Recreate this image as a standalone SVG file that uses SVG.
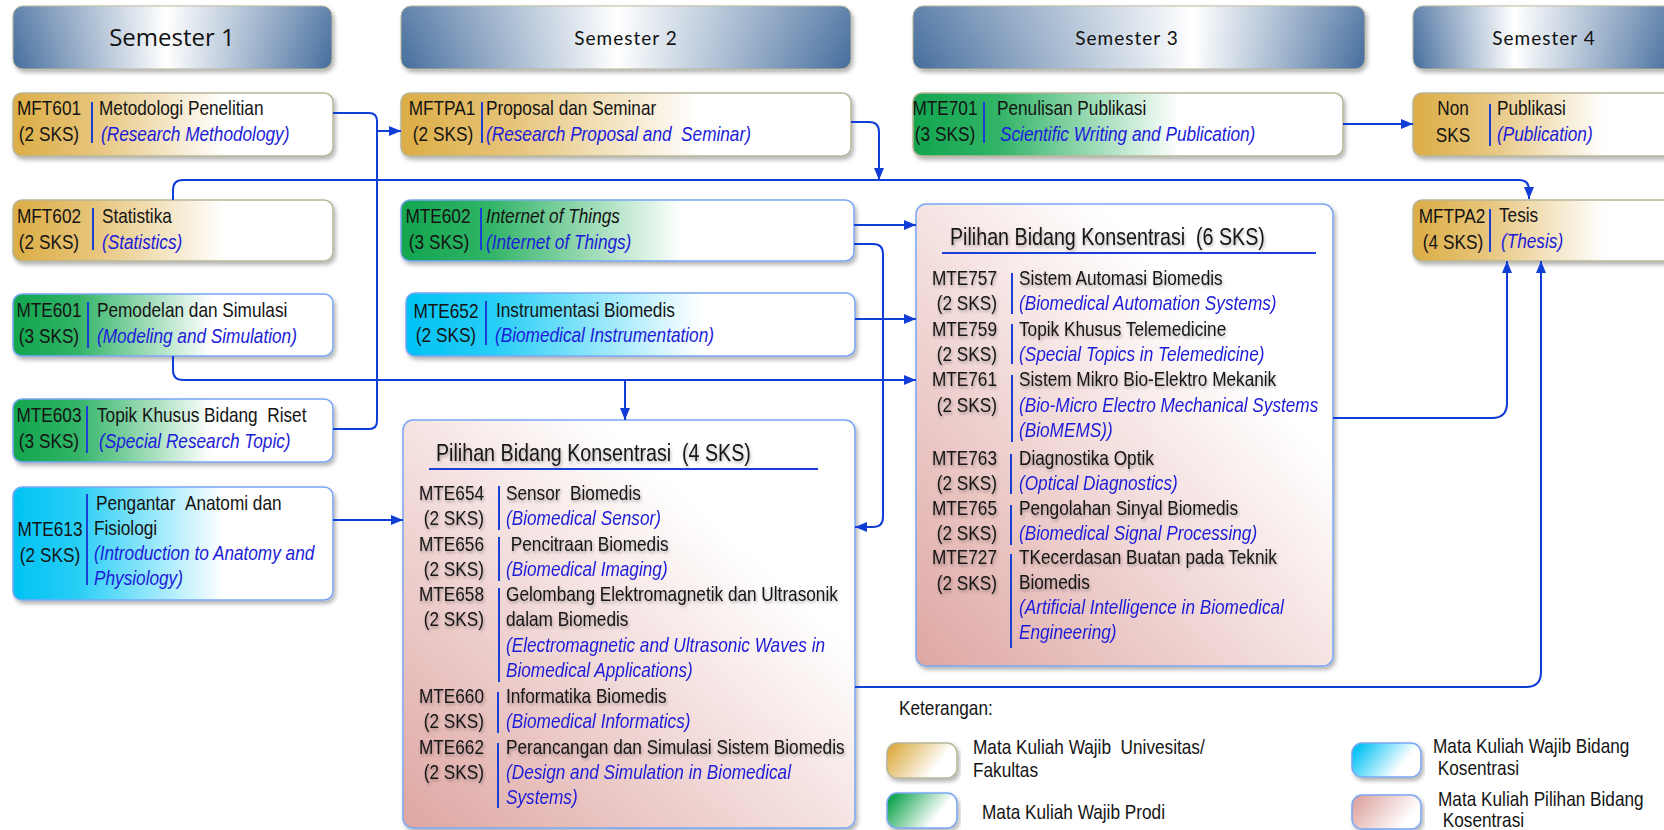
<svg xmlns="http://www.w3.org/2000/svg" width="1664" height="830" viewBox="0 0 1664 830">
  <defs>
    <style>
      .t { font-family: 'Liberation Sans', Arial, sans-serif; font-size: 21px; fill: #141414; transform: scaleX(0.82); transform-box: fill-box; transform-origin: 0 50%; }
      .s { font-style: italic; fill: #1C1CD8; }
      .i { font-style: italic; }
      .c { text-anchor: middle; transform-origin: 50% 50%; }
      .r { text-anchor: end; transform-origin: 100% 50%; }
      .h { font-size: 24px; }
      .sep { stroke: #1B3ED4; stroke-width: 2; }
      .con { fill: none; stroke: #0F3DD6; stroke-width: 2; }
      .hdr { stroke: #B3B195; stroke-width: 1; filter: url(#shadow); }
      .bx { stroke-width: 1.5; filter: url(#shadow); }
      .olive { stroke: #B7B598; }
      .blue { stroke: #79A7F2; }
      .sem { font-family: Lato, 'Open Sans', sans-serif; font-size: 19px; letter-spacing: 1px; fill: #111; text-anchor: middle; }
      .sem1 { font-family: 'Open Sans', sans-serif; font-size: 24px; fill: #111; text-anchor: middle; }
    </style>
    <filter id="shadow" x="-5%" y="-10%" width="110%" height="130%">
      <feDropShadow dx="2" dy="3" stdDeviation="2" flood-color="#000" flood-opacity="0.3"/>
    </filter>
    <filter id="tshadow" x="-5%" y="-20%" width="110%" height="150%">
      <feDropShadow dx="1" dy="2" stdDeviation="1.5" flood-color="#000" flood-opacity="0.3"/>
    </filter>
    <!-- header bars: steel blue edges, white highlight -->
    <linearGradient id="hdr" x1="0" y1="0" x2="1" y2="0">
      <stop offset="0" stop-color="#456D9D"/>
      <stop offset="0.48" stop-color="#FFFFFF"/>
      <stop offset="1" stop-color="#456D9D"/>
    </linearGradient>
    <linearGradient id="hdr3" x1="0" y1="0" x2="1" y2="0">
      <stop offset="0" stop-color="#456D9D"/>
      <stop offset="0.62" stop-color="#FFFFFF"/>
      <stop offset="1" stop-color="#456D9D"/>
    </linearGradient>
    <linearGradient id="hdr4" x1="0" y1="0" x2="1" y2="0">
      <stop offset="0" stop-color="#456D9D"/>
      <stop offset="0.35" stop-color="#FFFFFF"/>
      <stop offset="0.9" stop-color="#456D9D"/>
    </linearGradient>
    <linearGradient id="hdrv" x1="0" y1="0" x2="0" y2="1">
      <stop offset="0" stop-color="#FFFFFF" stop-opacity="0.15"/>
      <stop offset="1" stop-color="#FFFFFF" stop-opacity="0"/>
    </linearGradient>
    <!-- course category fills -->
    <linearGradient id="gold" x1="0" y1="0" x2="1" y2="0">
      <stop offset="0" stop-color="#DCAD45"/>
      <stop offset="0.25" stop-color="#E6C47A"/>
      <stop offset="0.66" stop-color="#FFFFFF"/>
    </linearGradient>
    <linearGradient id="green" x1="0" y1="0" x2="1" y2="0">
      <stop offset="0" stop-color="#12A54E"/>
      <stop offset="0.2" stop-color="#32B467"/>
      <stop offset="0.62" stop-color="#FFFFFF"/>
    </linearGradient>
    <linearGradient id="cyan" x1="0" y1="0" x2="1" y2="0">
      <stop offset="0" stop-color="#00C2F4"/>
      <stop offset="0.2" stop-color="#28CEF6"/>
      <stop offset="0.66" stop-color="#FFFFFF"/>
    </linearGradient>
    <linearGradient id="pink" x1="0" y1="1" x2="1" y2="0">
      <stop offset="0" stop-color="#DEA6A2"/>
      <stop offset="0.72" stop-color="#FFFFFF"/>
      <stop offset="1" stop-color="#FFFFFF"/>
    </linearGradient>
    <linearGradient id="goldS" x1="0" y1="0.3" x2="1" y2="0.7">
      <stop offset="0" stop-color="#DCAD45"/>
      <stop offset="0.75" stop-color="#FFFFFF"/>
    </linearGradient>
    <linearGradient id="greenS" x1="0" y1="0.3" x2="1" y2="0.7">
      <stop offset="0" stop-color="#12A54E"/>
      <stop offset="0.75" stop-color="#FFFFFF"/>
    </linearGradient>
    <linearGradient id="cyanS" x1="0" y1="0.3" x2="1" y2="0.7">
      <stop offset="0" stop-color="#00C2F4"/>
      <stop offset="0.75" stop-color="#FFFFFF"/>
    </linearGradient>
    <linearGradient id="pinkS" x1="0" y1="0.3" x2="1" y2="0.7">
      <stop offset="0" stop-color="#DEA6A2"/>
      <stop offset="0.85" stop-color="#FFFFFF"/>
    </linearGradient>
    <marker id="arrow" viewBox="0 0 12 10" refX="12" refY="5" markerWidth="12" markerHeight="10" markerUnits="userSpaceOnUse" orient="auto">
      <path d="M0,0 L12,5 L0,10 z" fill="#0F3DD6"/>
    </marker>
  </defs>

  <rect width="1664" height="830" fill="#FFFFFF"/>

  <!-- semester headers -->
  <g id="sem1">
    <rect class="hdr" x="13" y="6" width="319" height="63" rx="10" fill="url(#hdr)"/>
    <rect x="13" y="6" width="319" height="63" rx="10" fill="url(#hdrv)"/>
    <text class="sem1" x="172" y="46">Semester 1</text>
  </g>
  <g id="sem2">
    <rect class="hdr" x="401" y="6" width="450" height="63" rx="10" fill="url(#hdr)"/>
    <rect x="401" y="6" width="450" height="63" rx="10" fill="url(#hdrv)"/>
    <text class="sem" x="626" y="45">Semester 2</text>
  </g>
  <g id="sem3">
    <rect class="hdr" x="913" y="6" width="452" height="63" rx="10" fill="url(#hdr3)"/>
    <rect x="913" y="6" width="452" height="63" rx="10" fill="url(#hdrv)"/>
    <text class="sem" x="1127" y="45">Semester 3</text>
  </g>
  <g id="sem4">
    <rect class="hdr" x="1413" y="6" width="290" height="63" rx="10" fill="url(#hdr4)"/>
    <rect x="1413" y="6" width="290" height="63" rx="10" fill="url(#hdrv)"/>
    <text class="sem" x="1544" y="45">Semester 4</text>
  </g>

  <!-- Semester 1 courses -->
  <g id="mft601">
    <rect class="bx olive" x="13" y="93" width="320" height="63" rx="9" fill="url(#gold)"/>
    <text class="t c" x="49" y="115">MFT601</text>
    <text class="t c" x="49" y="141">(2 SKS)</text>
    <line class="sep" x1="92" y1="102" x2="92" y2="143"/>
    <text class="t" x="99" y="115">Metodologi Penelitian</text>
    <text class="t s" x="101" y="141">(Research Methodology)</text>
  </g>
  <g id="mft602">
    <rect class="bx olive" x="13" y="200" width="320" height="61" rx="9" fill="url(#gold)"/>
    <text class="t c" x="49" y="223">MFT602</text>
    <text class="t c" x="49" y="249">(2 SKS)</text>
    <line class="sep" x1="93" y1="208" x2="93" y2="250"/>
    <text class="t" x="102" y="223">Statistika</text>
    <text class="t s" x="102" y="249">(Statistics)</text>
  </g>
  <g id="mte601">
    <rect class="bx blue" x="13" y="294" width="320" height="62" rx="9" fill="url(#green)"/>
    <text class="t c" x="49" y="317">MTE601</text>
    <text class="t c" x="49" y="343">(3 SKS)</text>
    <line class="sep" x1="88" y1="302" x2="88" y2="348"/>
    <text class="t" x="97" y="317">Pemodelan dan Simulasi</text>
    <text class="t s" x="97" y="343">(Modeling and Simulation)</text>
  </g>
  <g id="mte603">
    <rect class="bx blue" x="13" y="399" width="320" height="63" rx="9" fill="url(#green)"/>
    <text class="t c" x="49" y="422">MTE603</text>
    <text class="t c" x="49" y="448">(3 SKS)</text>
    <line class="sep" x1="87" y1="406" x2="87" y2="453"/>
    <text class="t" x="97" y="422">Topik Khusus Bidang&#160;&#160;Riset</text>
    <text class="t s" x="99" y="448">(Special Research Topic)</text>
  </g>
  <g id="mte613">
    <rect class="bx blue" x="13" y="487" width="320" height="113" rx="9" fill="url(#cyan)"/>
    <text class="t c" x="50" y="536">MTE613</text>
    <text class="t c" x="50" y="562">(2 SKS)</text>
    <line class="sep" x1="87" y1="494" x2="87" y2="585"/>
    <text class="t" x="96" y="510">Pengantar&#160;&#160;Anatomi dan</text>
    <text class="t" x="94" y="535">Fisiologi</text>
    <text class="t s" x="94" y="560">(Introduction to Anatomy and</text>
    <text class="t s" x="94" y="585">Physiology)</text>
  </g>

  <!-- Semester 2 courses -->
  <g id="mftpa1">
    <rect class="bx olive" x="401" y="93" width="450" height="63" rx="9" fill="url(#gold)"/>
    <text class="t c" x="442" y="115">MFTPA1</text>
    <text class="t c" x="443" y="141">(2 SKS)</text>
    <line class="sep" x1="482" y1="102" x2="482" y2="143"/>
    <text class="t" x="486" y="115">Proposal dan Seminar</text>
    <text class="t s" x="486" y="141">(Research Proposal and&#160;&#160;Seminar)</text>
  </g>
  <g id="mte602">
    <rect class="bx blue" x="401" y="200" width="453" height="61" rx="9" fill="url(#green)"/>
    <text class="t c" x="438" y="223">MTE602</text>
    <text class="t c" x="439" y="249">(3 SKS)</text>
    <line class="sep" x1="481" y1="208" x2="481" y2="250"/>
    <text class="t i" x="486" y="223">Internet of Things</text>
    <text class="t s" x="486" y="249">(Internet of Things)</text>
  </g>
  <g id="mte652">
    <rect class="bx blue" x="406" y="293" width="449" height="63" rx="9" fill="url(#cyan)"/>
    <text class="t c" x="446" y="318">MTE652</text>
    <text class="t c" x="446" y="342">(2 SKS)</text>
    <line class="sep" x1="486" y1="301" x2="486" y2="345"/>
    <text class="t" x="496" y="317">Instrumentasi Biomedis</text>
    <text class="t s" x="495" y="342">(Biomedical Instrumentation)</text>
  </g>
  <g id="pilihan4">
    <rect class="bx blue" x="403" y="420" width="452" height="408" rx="10" fill="url(#pink)"/>
    <g filter="url(#tshadow)">
      <text class="t h" x="436" y="461">Pilihan Bidang Konsentrasi&#160;&#160;(4 SKS)</text>
      <text class="t r" x="484" y="500">MTE654</text>
      <text class="t r" x="484" y="525">(2 SKS)</text>
      <text class="t" x="506" y="500">Sensor&#160;&#160;Biomedis</text>
      <text class="t r" x="484" y="551">MTE656</text>
      <text class="t r" x="484" y="576">(2 SKS)</text>
      <text class="t" x="506" y="551">&#160;Pencitraan Biomedis</text>
      <text class="t r" x="484" y="601">MTE658</text>
      <text class="t r" x="484" y="626">(2 SKS)</text>
      <text class="t" x="506" y="601">Gelombang Elektromagnetik dan Ultrasonik</text>
      <text class="t" x="506" y="626">dalam Biomedis</text>
      <text class="t r" x="484" y="703">MTE660</text>
      <text class="t r" x="484" y="728">(2 SKS)</text>
      <text class="t" x="506" y="703">Informatika Biomedis</text>
      <text class="t r" x="484" y="754">MTE662</text>
      <text class="t r" x="484" y="779">(2 SKS)</text>
      <text class="t" x="506" y="754">Perancangan dan Simulasi Sistem Biomedis</text>
    </g>
    <text class="t s" x="506" y="525">(Biomedical Sensor)</text>
    <text class="t s" x="506" y="576">(Biomedical Imaging)</text>
    <text class="t s" x="506" y="652">(Electromagnetic and Ultrasonic Waves in</text>
    <text class="t s" x="506" y="677">Biomedical Applications)</text>
    <text class="t s" x="506" y="728">(Biomedical Informatics)</text>
    <text class="t s" x="506" y="779">(Design and Simulation in Biomedical</text>
    <text class="t s" x="506" y="804">Systems)</text>
    <line class="sep" x1="429" y1="469" x2="818" y2="469"/>
    <line class="sep" x1="499" y1="486" x2="499" y2="530"/>
    <line class="sep" x1="499" y1="537" x2="499" y2="581"/>
    <line class="sep" x1="499" y1="588" x2="499" y2="682"/>
    <line class="sep" x1="498" y1="692" x2="498" y2="733"/>
    <line class="sep" x1="498" y1="743" x2="498" y2="808"/>
  </g>

  <!-- Semester 3 courses -->
  <g id="mte701">
    <rect class="bx olive" x="913" y="93" width="430" height="63" rx="9" fill="url(#green)"/>
    <text class="t c" x="945" y="115">MTE701</text>
    <text class="t c" x="945" y="141">(3 SKS)</text>
    <line class="sep" x1="984" y1="102" x2="984" y2="143"/>
    <text class="t" x="997" y="115">Penulisan Publikasi</text>
    <text class="t s" x="1000" y="141">Scientific Writing and Publication)</text>
  </g>
  <g id="pilihan6">
    <rect class="bx blue" x="916" y="204" width="417" height="462" rx="10" fill="url(#pink)"/>
    <g filter="url(#tshadow)">
      <text class="t h" x="950" y="245">Pilihan Bidang Konsentrasi&#160;&#160;(6 SKS)</text>
      <text class="t r" x="997" y="285">MTE757</text>
      <text class="t r" x="997" y="310">(2 SKS)</text>
      <text class="t" x="1019" y="285">Sistem Automasi Biomedis</text>
      <text class="t r" x="997" y="336">MTE759</text>
      <text class="t r" x="997" y="361">(2 SKS)</text>
      <text class="t" x="1019" y="336">Topik Khusus Telemedicine</text>
      <text class="t r" x="997" y="386">MTE761</text>
      <text class="t r" x="997" y="412">(2 SKS)</text>
      <text class="t" x="1019" y="386">Sistem Mikro Bio-Elektro Mekanik</text>
      <text class="t r" x="997" y="465">MTE763</text>
      <text class="t r" x="997" y="490">(2 SKS)</text>
      <text class="t" x="1019" y="465">Diagnostika Optik</text>
      <text class="t r" x="997" y="515">MTE765</text>
      <text class="t r" x="997" y="540">(2 SKS)</text>
      <text class="t" x="1019" y="515">Pengolahan Sinyal Biomedis</text>
      <text class="t r" x="997" y="564">MTE727</text>
      <text class="t r" x="997" y="590">(2 SKS)</text>
      <text class="t" x="1019" y="564">TKecerdasan Buatan pada Teknik</text>
      <text class="t" x="1019" y="589">Biomedis</text>
    </g>
    <text class="t s" x="1019" y="310">(Biomedical Automation Systems)</text>
    <text class="t s" x="1019" y="361">(Special Topics in Telemedicine)</text>
    <text class="t s" x="1019" y="412">(Bio-Micro Electro Mechanical Systems</text>
    <text class="t s" x="1019" y="437">(BioMEMS))</text>
    <text class="t s" x="1019" y="490">(Optical Diagnostics)</text>
    <text class="t s" x="1019" y="540">(Biomedical Signal Processing)</text>
    <text class="t s" x="1019" y="614">(Artificial Intelligence in Biomedical</text>
    <text class="t s" x="1019" y="639">Engineering)</text>
    <line class="sep" x1="942" y1="253" x2="1316" y2="253"/>
    <line class="sep" x1="1012" y1="273" x2="1012" y2="314"/>
    <line class="sep" x1="1012" y1="324" x2="1012" y2="364"/>
    <line class="sep" x1="1012" y1="375" x2="1012" y2="442"/>
    <line class="sep" x1="1011" y1="454" x2="1011" y2="494"/>
    <line class="sep" x1="1011" y1="505" x2="1011" y2="545"/>
    <line class="sep" x1="1011" y1="554" x2="1011" y2="648"/>
  </g>

  <!-- Semester 4 courses -->
  <g id="nonsks">
    <rect class="bx olive" x="1413" y="93" width="290" height="63" rx="9" fill="url(#gold)"/>
    <text class="t c" x="1453" y="115">Non</text>
    <text class="t c" x="1453" y="142">SKS</text>
    <line class="sep" x1="1490" y1="104" x2="1490" y2="146"/>
    <text class="t" x="1497" y="115">Publikasi</text>
    <text class="t s" x="1497" y="141">(Publication)</text>
  </g>
  <g id="mftpa2">
    <rect class="bx olive" x="1413" y="200" width="290" height="61" rx="9" fill="url(#gold)"/>
    <text class="t c" x="1452" y="223">MFTPA2</text>
    <text class="t c" x="1453" y="249">(4 SKS)</text>
    <line class="sep" x1="1490" y1="209" x2="1490" y2="252"/>
    <text class="t" x="1499" y="222">Tesis</text>
    <text class="t s" x="1501" y="248">(Thesis)</text>
  </g>

  <!-- legend -->
  <g id="legend">
    <text class="t" x="899" y="715">Keterangan:</text>
    <rect class="bx olive" x="887" y="743" width="70" height="35" rx="10" fill="url(#goldS)"/>
    <text class="t" x="973" y="754">Mata Kuliah Wajib&#160;&#160;Univesitas/</text>
    <text class="t" x="973" y="777">Fakultas</text>
    <rect class="bx blue" x="887" y="793" width="70" height="35" rx="10" fill="url(#greenS)"/>
    <text class="t" x="982" y="819">Mata Kuliah Wajib Prodi</text>
    <rect class="bx blue" x="1352" y="743" width="69" height="34" rx="10" fill="url(#cyanS)"/>
    <text class="t" x="1433" y="753">Mata Kuliah Wajib Bidang</text>
    <text class="t" x="1433" y="775">&#160;Kosentrasi</text>
    <rect class="bx blue" x="1352" y="795" width="69" height="34" rx="10" fill="url(#pinkS)"/>
    <text class="t" x="1438" y="806">Mata Kuliah Pilihan Bidang</text>
    <text class="t" x="1438" y="827">&#160;Kosentrasi</text>
  </g>

  <!-- connectors -->
  <g id="connectors">
    <path class="con" d="M333,113 H369 Q377,113 377,121 V421 Q377,429 369,429 H333"/>
    <path class="con" d="M377,131 H401" marker-end="url(#arrow)"/>
    <path class="con" d="M173,200 V190 Q173,180 183,180 H1519 Q1529,180 1529,190 V199" marker-end="url(#arrow)"/>
    <path class="con" d="M851,122 H869 Q879,122 879,132 V180" marker-end="url(#arrow)"/>
    <path class="con" d="M854,225 H916" marker-end="url(#arrow)"/>
    <path class="con" d="M854,244 H873 Q883,244 883,254 V517 Q883,527 873,527 H855" marker-end="url(#arrow)"/>
    <path class="con" d="M855,319 H916" marker-end="url(#arrow)"/>
    <path class="con" d="M173,356 V370 Q173,380 183,380 H916" marker-end="url(#arrow)"/>
    <path class="con" d="M625,380 V420" marker-end="url(#arrow)"/>
    <path class="con" d="M333,520 H403" marker-end="url(#arrow)"/>
    <path class="con" d="M1343,124 H1413" marker-end="url(#arrow)"/>
    <path class="con" d="M1333,418 H1492 Q1507,418 1507,403 V261" marker-end="url(#arrow)"/>
    <path class="con" d="M855,687 H1526 Q1541,687 1541,672 V261" marker-end="url(#arrow)"/>
  </g>
</svg>
